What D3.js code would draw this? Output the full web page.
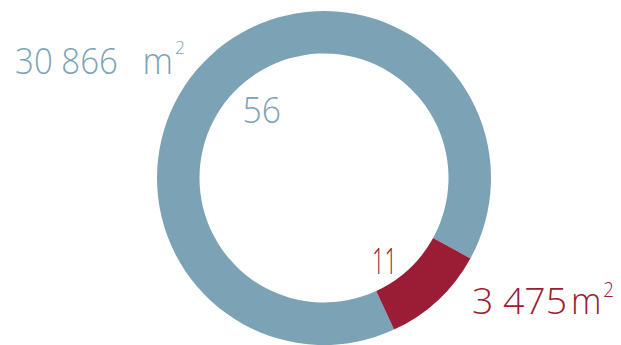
<!DOCTYPE html>
<html><head><meta charset="utf-8">
<script src="https://cdn.jsdelivr.net/npm/d3@7"></script>
<style>html,body{margin:0;padding:0;background:#fff;overflow:hidden}text{font-family:"Open Sans",Lato,sans-serif;font-weight:300}</style>
</head><body>
<script>
const categories = ["Övrigt", "Markerat"];
const areas = [30866, 3475];
const counts = [56, 11];
const unitLabel = "m";
const unitSup = "2";
const colors = ["#7ca3b5", "#9b1c35"];

const W = 621, H = 345;
const svg = d3.select("body").append("svg").attr("width", W).attr("height", H);
const cx = 324, cy = 178, rOut = 167, rIn = 124.5;
const start = 155.2 * Math.PI / 180;
const pie = d3.pie().sort(null).startAngle(start).endAngle(start + 2 * Math.PI);
const arc = d3.arc().innerRadius(rIn).outerRadius(rOut);
const g = svg.append("g").attr("transform", `translate(${cx},${cy})`);
g.selectAll("path").data(pie(areas)).join("path")
  .attr("d", arc).attr("fill", (d, i) => colors[i]);

function fmt(v){ return d3.format(",")(v).replace(/,/g, " "); }

function txt(x, y, w, size, color, s){
  svg.append("text").attr("x", x).attr("y", y).attr("fill", color).attr("font-size", size)
    .attr("textLength", w).attr("lengthAdjust", "spacingAndGlyphs").text(s);
}
// area labels: number, unit, superscript
const areaPos = [
  {nx:15, nw:103, mx:142.5, mw:30.5, sx:175, sw:10, y:74, sy:54.3, ss:18},
  {nx:472, nw:95, mx:571, mw:30.5, sx:603.3, sw:10.7, y:314, sy:296.7, ss:21}
];
areaPos.forEach((p, i) => {
  txt(p.nx, p.y, p.nw, 37, colors[i], fmt(areas[i]));
  txt(p.mx, p.y, p.mw, 37, colors[i], unitLabel);
  txt(p.sx, p.sy, p.sw, p.ss, colors[i], unitSup);
});
// count labels
const countPos = [{x:242.5, y:123, w:38.5}, {x:372, y:274, w:25}];
countPos.forEach((p, i) => txt(p.x, p.y, p.w, 37, colors[i], counts[i]));
</script>
</body></html>
